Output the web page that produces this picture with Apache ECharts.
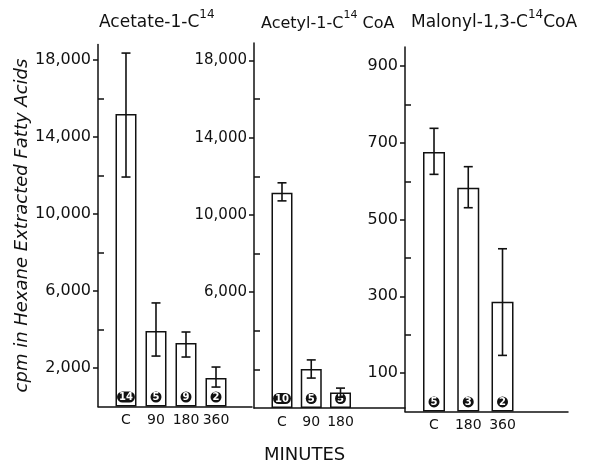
<!DOCTYPE html>
<html>
<head>
<meta charset="utf-8">
<script src="https://cdn.jsdelivr.net/npm/echarts@6/dist/echarts.min.js"></script>
<style>
  html, body { margin: 0; padding: 0; background: #fff; }
  #chart { width: 590px; height: 466px; }
</style>
</head>
<body>
<div id="chart"></div>
<script>
// Acetate-1-C14
const catsA = ['C', '90', '180', '360']
const valsA = [15200, 3920, 3300, 1480]
const hiA = [18360, 5380, 3870, 2050]
const loA = [11920, 2620, 2570, 1010]
const countsA = [14, 5, 9, 2]

// Acetyl-1-C14 CoA
const catsB = ['C', '90', '180']
const valsB = [11140, 2020, 800]
const hiB = [11660, 2490, 1030]
const loB = [10725, 1550, 560]
const countsB = [10, 5, 5]

// Malonyl-1,3-C14 CoA
const catsC = ['C', '180', '360']
const valsC = [676, 583, 286]
const hiC = [738, 638, 424]
const loC = [618, 531, 146]
const countsC = [5, 3, 2]

// labelled ticks and the small unlabelled ones, per panel
const ticksA = [2000, 6000, 10000, 14000, 18000]
const minorA = [4000, 8000, 12000, 16000]
const ticksB = [6000, 10000, 14000, 18000]
const minorB = [2000, 4000, 8000, 12000, 16000]
const ticksC = [100, 300, 500, 700, 900]
const minorC = [200, 400, 600, 800]

const INK = '#111'
const FONT = 'DejaVu Sans'

const chart = echarts.init(document.getElementById('chart'), null, { renderer: 'canvas' })

const grids = [
  { left: 98, width: 154, top: 44.6, height: 361.9 },
  { left: 254, width: 151, top: 43, height: 365 },
  { left: 405, width: 163, top: 47, height: 364.4 },
]
const xRanges = [[-0.933, 4.2], [-0.957, 4.205], [-0.847, 3.912]]
const yMax = [18800, 18900, 950]
const cats = [catsA, catsB, catsC]
const vals = [valsA, valsB, valsC]
const his = [hiA, hiB, hiC]
const los = [loA, loB, loC]
const counts = [countsA, countsB, countsC]
const ticks = [ticksA, ticksB, ticksC]
const minors = [minorA, minorB, minorC]
const barW = [21, 21, 22]
const tickFont = [16, 15, 16]

const fmtNum = (v) => Number(v).toLocaleString('en-US')

const xAxes = cats.map((c, i) => ({
  type: 'value',
  gridIndex: i,
  min: xRanges[i][0],
  max: xRanges[i][1],
  axisLine: { show: true, onZero: false, lineStyle: { color: INK, width: 1.5 } },
  axisTick: { show: false },
  splitLine: { show: false },
  axisLabel: {
    customValues: c.map((_, k) => k),
    formatter: (v) => c[Math.round(v)] || '',
    color: INK, fontFamily: FONT, fontSize: 14, margin: 7,
  },
}))

const yAxes = []
;[0, 1, 2].forEach(i => {
  yAxes.push({
    type: 'value',
    gridIndex: i,
    position: 'left',
    min: 0,
    max: yMax[i],
    axisLine: { show: true, onZero: false, lineStyle: { color: INK, width: 1.5 } },
    axisTick: { show: true, customValues: ticks[i], length: 5, lineStyle: { color: INK, width: 1.5 } },
    axisLabel: {
      customValues: ticks[i],
      formatter: fmtNum,
      color: INK, fontFamily: FONT, fontSize: tickFont[i], margin: 7,
    },
    splitLine: { show: false },
    name: i === 0 ? 'cpm in Hexane Extracted Fatty Acids' : '',
    nameLocation: 'middle',
    nameRotate: 90,
    nameGap: 66,
    nameTextStyle: { color: INK, fontFamily: FONT, fontSize: 18, fontStyle: 'italic' },
  })
  yAxes.push({
    type: 'value',
    gridIndex: i,
    position: 'left',
    min: 0,
    max: yMax[i],
    axisLine: { show: false, onZero: false },
    axisLabel: { show: false },
    splitLine: { show: false },
    axisTick: { show: true, inside: true, customValues: minors[i], length: 6, lineStyle: { color: INK, width: 1.5 } },
  })
})

const errItem = (params, api) => {
  const x = api.value(0)
  const pHi = api.coord([x, api.value(1)])
  const pLo = api.coord([x, api.value(2)])
  const w = 4.5
  const st = { stroke: INK, lineWidth: 1.6 }
  return {
    type: 'group',
    children: [
      { type: 'line', shape: { x1: pHi[0], y1: pHi[1], x2: pLo[0], y2: pLo[1] }, style: st },
      { type: 'line', shape: { x1: pHi[0] - w, y1: pHi[1], x2: pHi[0] + w, y2: pHi[1] }, style: st },
      { type: 'line', shape: { x1: pLo[0] - w, y1: pLo[1], x2: pLo[0] + w, y2: pLo[1] }, style: st },
    ],
  }
}

const series = []
;[0, 1, 2].forEach(i => {
  series.push({
    type: 'bar',
    xAxisIndex: i,
    yAxisIndex: i * 2,
    barWidth: barW[i],
    data: vals[i].map((v, k) => [k, v]),
    itemStyle: { color: '#fff', borderColor: INK, borderWidth: 1.5 },
    label: {
      show: true,
      position: 'insideBottom',
      distance: 4,
      formatter: (p) => String(counts[i][p.dataIndex]),
      color: '#fff',
      backgroundColor: INK,
      borderRadius: 6,
      padding: [1, 2, 0, 2],
      fontFamily: FONT,
      fontWeight: 'bold',
      fontSize: 10,
    },
    silent: true,
    animation: false,
  })
  series.push({
    type: 'custom',
    xAxisIndex: i,
    yAxisIndex: i * 2,
    renderItem: errItem,
    data: his[i].map((h, k) => [k, h, los[i][k]]),
    silent: true,
    animation: false,
    z: 5,
  })
})

const rich = {
  a: { fontFamily: FONT, fontSize: 17, fontWeight: 'normal', color: INK, lineHeight: 22, verticalAlign: 'bottom' },
  s: { fontFamily: FONT, fontSize: 12, fontWeight: 'normal', color: INK, lineHeight: 12, verticalAlign: 'top' },
}
const richSmall = {
  a: { ...rich.a, fontSize: 16 },
  s: { ...rich.s, fontSize: 11 },
}

chart.setOption({
  backgroundColor: '#fff',
  animation: false,
  title: [
    { text: '{a|Acetate-1-C}{s|14}', left: 99, top: 9, padding: 0, textStyle: { fontWeight: 'normal', rich } },
    { text: '{a|Acetyl-1-C}{s|14}{a| CoA}', left: 261, top: 10, padding: 0, textStyle: { fontWeight: 'normal', rich: richSmall } },
    { text: '{a|Malonyl-1,3-C}{s|14}{a|CoA}', left: 411, top: 9, padding: 0, textStyle: { fontWeight: 'normal', rich } },
    { text: 'MINUTES', left: 264, top: 446, padding: 0, textStyle: { fontFamily: FONT, fontSize: 18, color: INK, fontWeight: 'normal' } },
  ],
  grid: grids,
  xAxis: xAxes,
  yAxis: yAxes,
  series,
})
</script>
</body>
</html>
